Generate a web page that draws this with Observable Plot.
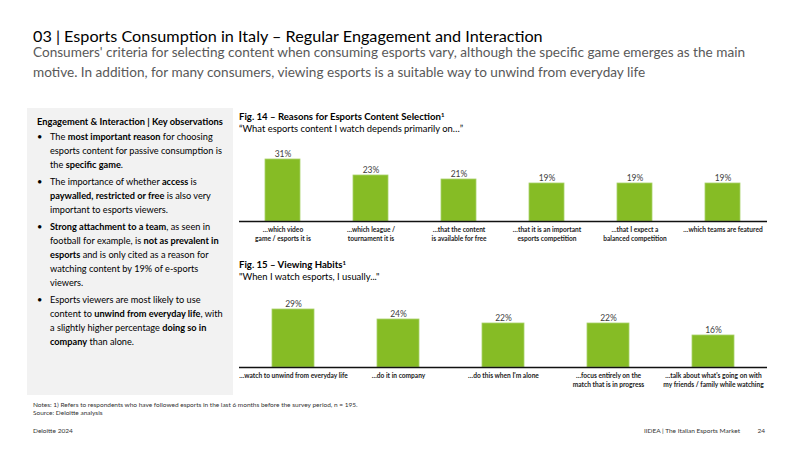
<!DOCTYPE html>
<html>
<head>
<meta charset="utf-8">
<script src="https://cdn.jsdelivr.net/npm/d3@7"></script>
<script src="https://cdn.jsdelivr.net/npm/@observablehq/plot@0.6"></script>
<style>
  html, body { margin: 0; padding: 0; background: #fff; }
  body { width: 800px; height: 450px; position: relative; overflow: hidden;
         font-family: Lato, "Open Sans", sans-serif; color: #000; }
  .abs { position: absolute; white-space: nowrap; }
  #title { left: 33px; top: 26px; font-size: 16.2px; line-height: 20px; color: #000; }
  #subtitle { left: 33px; top: 42px; font-size: 13.6px; line-height: 20px; color: #595959; }
  #panel { position: absolute; left: 27px; top: 108px; width: 206px; height: 287px; background: #f2f2f2; }
  #panel .head { position: absolute; left: 10px; top: 7px; font-size: 9.3px; font-weight: bold; line-height: 14px; white-space: nowrap; }
  #panel ul { position: absolute; left: 10px; top: 22px; width: 189px; margin: 0; padding: 0; list-style: none; }
  #panel li { position: relative; padding-left: 13px; font-size: 9.2px; line-height: 14px; margin-bottom: 3px; color: #000; }
  #panel li::before { content: "•"; position: absolute; left: 0; top: 0; }
  .figtitle { left: 239px; font-size: 9.6px; font-weight: bold; line-height: 12px; }
  .figsub { left: 239px; font-size: 9.4px; line-height: 12px; }
  .sup { position: relative; top: -3px; font-size: 6px; }
  .chart { position: absolute; left: 0; }
  .foot { font-size: 6.5px; color: #333; line-height: 8px; }
</style>
</head>
<body>
<div id="title" class="abs">03 | Esports Consumption in Italy – Regular Engagement and Interaction</div>
<div id="subtitle" class="abs">Consumers' criteria for selecting content when consuming esports vary, although the specific game emerges as the main<br>motive. In addition, for many consumers, viewing esports is a suitable way to unwind from everyday life</div>

<div id="panel">
  <div class="head">Engagement &amp; Interaction | Key observations</div>
  <ul>
    <li>The <b>most important reason</b> for choosing esports content for passive consumption is the <b>specific game</b>.</li>
    <li>The importance of whether <b>access</b> is <b>paywalled, restricted or free</b> is also very important to esports viewers.</li>
    <li><b>Strong attachment to a team</b>, as seen in football for example, is <b>not as prevalent in esports</b> and is only cited as a reason for watching content by 19% of e-sports viewers.</li>
    <li>Esports viewers are most likely to use content to <b>unwind from everyday life</b>, with a slightly higher percentage <b>doing so in company</b> than alone.</li>
  </ul>
</div>

<div class="abs figtitle" style="top:111px">Fig. 14 – Reasons for Esports Content Selection<span class="sup">1</span></div>
<div class="abs figsub" style="top:123px">“What esports content I watch depends primarily on…”</div>
<div id="fig14" class="chart" style="top:140px"></div>

<div class="abs figtitle" style="top:259px">Fig. 15 – Viewing Habits<span class="sup">1</span></div>
<div class="abs figsub" style="top:271px">"When I watch esports, I usually..."</div>
<div id="fig15" class="chart" style="top:285px"></div>

<div class="abs foot" style="left:33px; top:401px">Notes: 1) Refers to respondents who have followed esports in the last 6 months before the survey period, n = 195.</div>
<div class="abs foot" style="left:33px; top:409px">Source: Deloitte analysis</div>
<div class="abs foot" style="left:33px; top:427px">Deloitte 2024</div>
<div class="abs foot" style="right:60px; top:427px">IIDEA | The Italian Esports Market</div>
<div class="abs foot" style="right:35px; top:427px">24</div>

<script>
// Fig. 14 – reasons for esports content selection (% of respondents)
const fig14Categories = [
  "…which video\ngame / esports it is",
  "…which league /\ntournament it is",
  "…that the content\nis available for free",
  "…that it is an important\nesports competition",
  "…that I expect a\nbalanced competition",
  "…which teams are featured"
];
const fig14Values = [31, 23, 21, 19, 19, 19];

// Fig. 15 – viewing habits (% of respondents)
const fig15Categories = [
  "…watch to unwind from everyday life",
  "…do it in company",
  "…do this when I'm alone",
  "…focus entirely on the\nmatch that is in progress",
  "…talk about what's going on with\nmy friends / family while watching"
];
const fig15Values = [29, 24, 22, 22, 16];

const GREEN = "#86bc25";
const FONT = 'Lato, "Open Sans", sans-serif';

function barChart(categories, values, opts) {
  const data = categories.map((c, i) => ({category: c, value: values[i]}));
  return Plot.plot({
    width: 800,
    height: 110,
    marginLeft: 239,
    marginRight: 33,
    marginTop: opts.marginTop,
    marginBottom: opts.marginBottom,
    style: {fontFamily: FONT, background: "transparent"},
    x: {domain: categories, paddingInner: 0.6, paddingOuter: 0.3, axis: null},
    y: {domain: [0, 35], axis: null},
    marks: [
      Plot.barY(data, {x: "category", y: "value", fill: GREEN, stroke: "#a9d16a", strokeWidth: 0.8}),
      Plot.text(data, {
        x: "category", y: "value",
        text: d => `${d.value}%`,
        lineAnchor: "bottom", dy: -3,
        fontSize: 8.5, fill: "#404040"
      }),
      Plot.ruleY([0], {stroke: "#111", strokeWidth: 1.5}),
      Plot.axisX({
        label: null,
        tickSize: 0, tickPadding: 4,
        fontSize: 6.6, fontWeight: "bold", fill: "#222",
        lineHeight: 1.35
      })
    ]
  });
}

document.getElementById("fig14").append(barChart(fig14Categories, fig14Values, {marginTop: 11, marginBottom: 29}));
document.getElementById("fig15").append(barChart(fig15Categories, fig15Values, {marginTop: 12, marginBottom: 28}));
</script>
</body>
</html>
